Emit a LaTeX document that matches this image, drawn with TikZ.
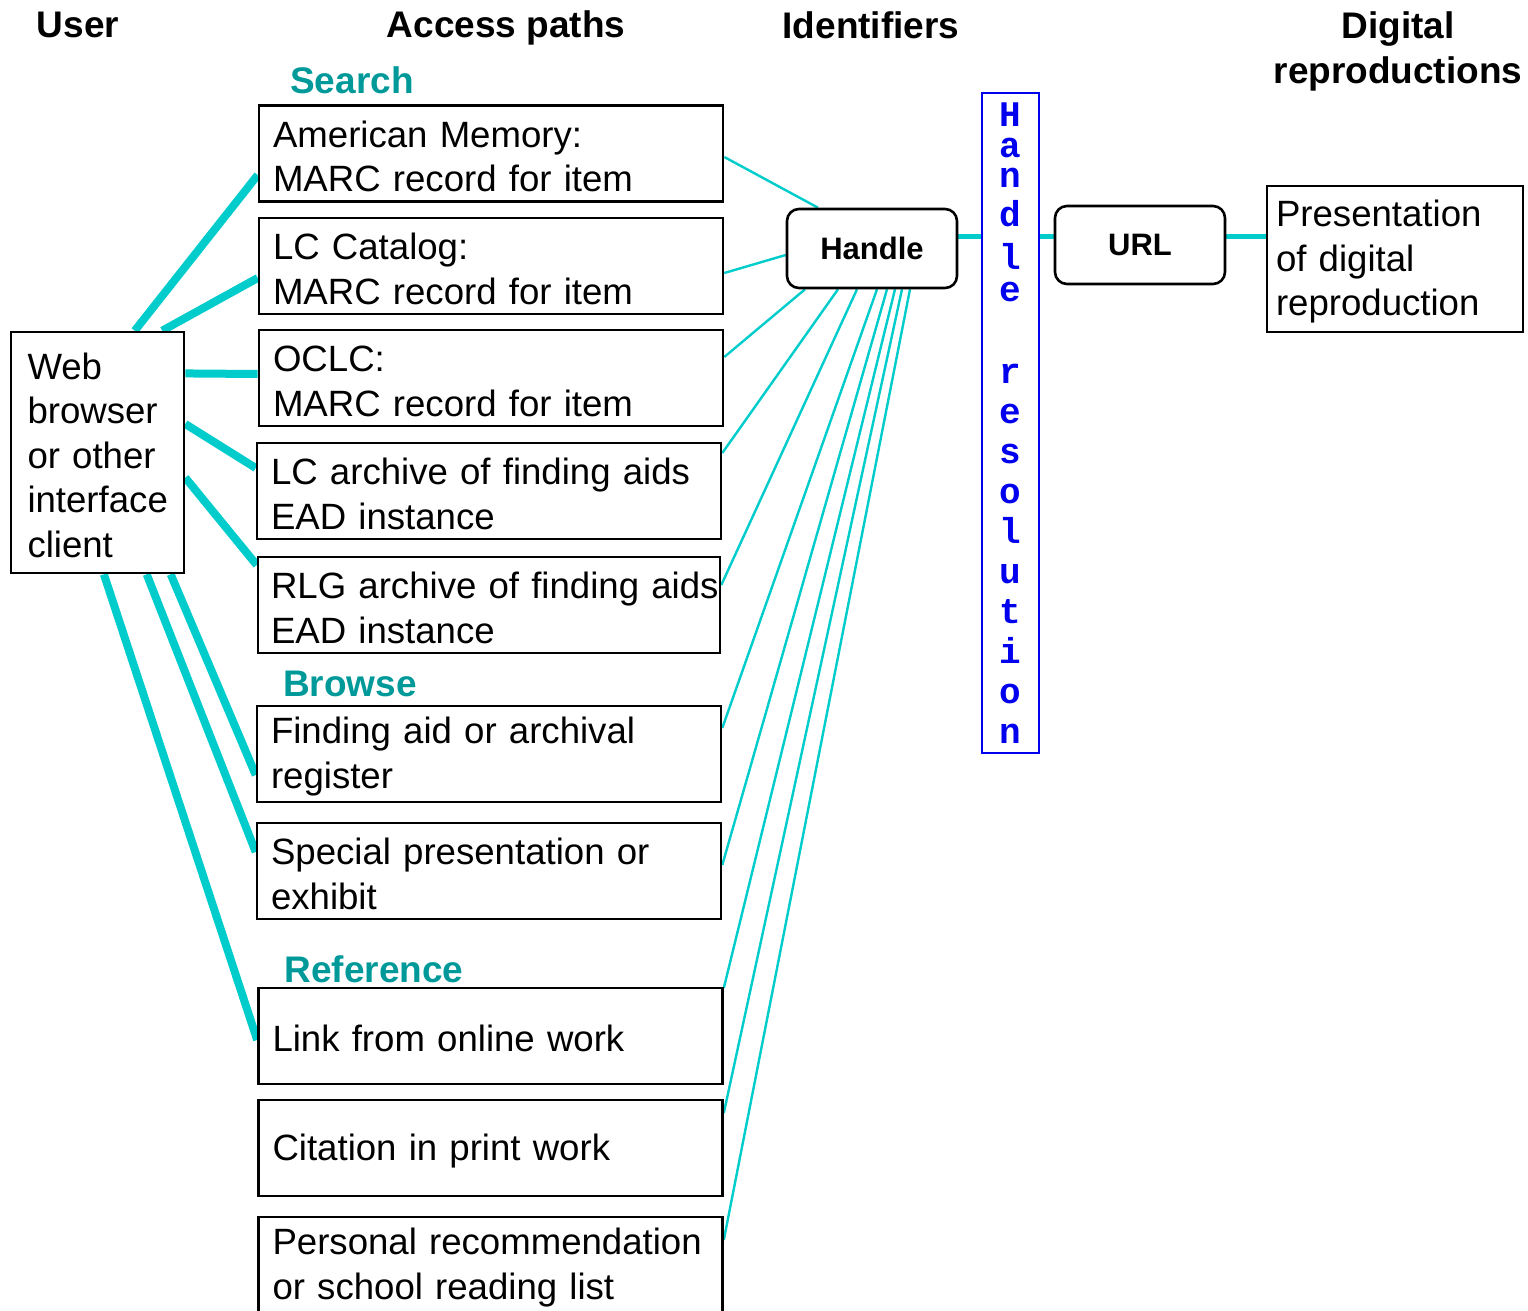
\documentclass[tikz,border=0pt]{standalone}
\usepackage{fontspec}
\setmainfont{Liberation Sans}
\setmonofont{Liberation Mono}
\usetikzlibrary{positioning}
\definecolor{linkteal}{HTML}{00CCCC}
\definecolor{headteal}{HTML}{009999}
\definecolor{resblue}{HTML}{0000EE}
\pgfdeclarelayer{background}
\pgfsetlayers{background,main}
\tikzset{
  pathbox/.style={draw,fill=white,line width=1.3pt,text width=218pt,inner xsep=7pt,inner ysep=0pt,
    minimum height=48pt,align=left,font=\fontsize{18.3}{22.3}\selectfont,
    execute at begin node=\rule{0pt}{16pt}},
  idbox/.style={draw,fill=white,rounded corners=6pt,line width=1.3pt,minimum width=85pt,minimum height=39.5pt,font=\bfseries\fontsize{15.5}{18}\selectfont},
  resbox/.style={draw=resblue,fill=white,text=resblue,line width=1pt,minimum width=28.5pt,minimum height=330pt,inner sep=0pt,align=center,font=\ttfamily\bfseries\fontsize{18}{20}\selectfont},
  colhead/.style={font=\bfseries\fontsize{18.5}{22.5}\selectfont,align=center},
  group/.style={text=headteal,font=\bfseries\fontsize{18.5}{22}\selectfont},
  thick link/.style={linkteal,line width=4pt},
  thin link/.style={linkteal,line width=1.2pt},
  chain/.style={linkteal,line width=2.5pt},
}

\begin{document}
\begin{tikzpicture}[x=0.5pt,y=-0.5pt]
\useasboundingbox (0,0) rectangle (1528,1311);

% column headings
\node[colhead] (huser) at (78,25) {User};
\node[colhead] (hpaths) at (506,28) {Access paths};
\node[colhead] (hids) at (871,25) {Identifiers};
\node[colhead] (hrepro) at (1398,51.5) {Digital\\reproductions};

% user side
\node[pathbox,text width=70pt,inner xsep=8.25pt,minimum height=120.5pt] (client) at (97.5,452.5)
  {Web\\browser\\or other\\interface\\client};

% access paths
\node[group] (search) at (352,80) {Search};
\node[pathbox] (am) at (491,153.5) {American Memory:\\MARC record for item};
\node[pathbox] (lc) at (491,266) {LC Catalog:\\MARC record for item};
\node[pathbox] (oclc) at (491,378) {OCLC:\\MARC record for item};
\node[pathbox] (lcead) at (489,491) {LC archive of finding aids\\EAD instance};
\node[pathbox,inner xsep=6.5pt] (rlg) at (489,605) {\mbox{RLG archive of finding aids}\\EAD instance};

\node[group] (browse) at (350,684) {Browse};
\node[pathbox] (aid) at (489,754) {Finding aid or archival\\register};
\node[pathbox] (exhibit) at (489,871) {Special presentation or\\exhibit};

\node[group] (refer) at (374,969) {Reference};
\node[pathbox] (link) at (490.5,1036) {Link from online work};
\node[pathbox] (cite) at (490.5,1148) {Citation in print work};
\node[pathbox] (pers) at (490.5,1265) {Personal recommendation\\or school reading list};

% identifiers
\node[idbox] (hdl) at (872,248.5) {Handle};
\node[resbox] (res) at (1010.5,423)
  {H\\[-4.5pt]a\\[-5pt]n\\[-0.5pt]d\\[1.5pt]l\\[-4pt]e\\[1pt]\mbox{}\\r\\e\\s\\o\\l\\u\\t\\i\\o\\n};
\node[idbox,minimum height=39pt] (url) at (1140,245) {URL};

% reproduction
\node[pathbox,text width=119pt,inner xsep=4.5pt,minimum height=73pt] (pres) at (1395,259)
  {Presentation\\of digital\\reproduction};

\coordinate (lvl) at (0,237);

\begin{pgfonlayer}{background}
\foreach \ang/\dest/\dy in {73.6/am/-10.75, 62.6/lc/-6, 42.2/oclc/2, 18.2/lcead/11.5,
    -16.4/rlg/20, -59/aid/-10.5, -68.5/exhibit/9.5, -87.4/link/-2}
  \draw[thick link] (client.\ang) -- ([yshift=\dy pt]\dest.west);

\draw[thin link] ([yshift=-1.75pt]am.east) -- ([xshift=-27pt]hdl.north);
\draw[thin link] ([yshift=-3.5pt]lc.east) -- ([yshift=-3.25pt]hdl.west);
\foreach \src/\dy/\dx in {oclc/10.5/-33.5, lcead/19/-17, rlg/10/-7.5, aid/13/2.5,
    exhibit/3/7.5, link/24/11.5, cite/17.5/15, pers/12.5/19}
  \draw[thin link] ([yshift=\dy pt]\src.east) -- ([xshift=\dx pt]hdl.south);

\draw[chain] (hdl.east |- lvl) -- (res.west |- lvl);
\draw[chain] (res.east |- lvl) -- (url.west |- lvl);
\draw[chain] (url.east |- lvl) -- (pres.west |- lvl);
\end{pgfonlayer}

\end{tikzpicture}
\end{document}
